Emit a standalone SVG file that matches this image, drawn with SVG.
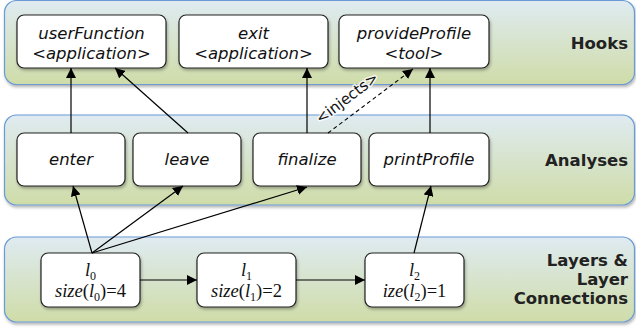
<svg xmlns="http://www.w3.org/2000/svg" width="636" height="329" viewBox="0 0 636 329">
<defs>
<linearGradient id="bandGrad" x1="0" y1="0" x2="0" y2="1">
<stop offset="0" stop-color="#dfebf1"/>
<stop offset="1" stop-color="#cfdca8"/>
</linearGradient>
<filter id="shadow" x="-5%" y="-5%" width="110%" height="120%">
<feDropShadow dx="1" dy="2" stdDeviation="1.5" flood-color="#000" flood-opacity="0.3"/>
</filter>
<marker id="arrow" viewBox="0 0 10 10" refX="10" refY="5" markerWidth="10" markerHeight="10" markerUnits="userSpaceOnUse" orient="auto">
<path d="M0,0 L10,5 L0,10 z" fill="#000"/>
</marker>
</defs>
<style>
.band{fill:url(#bandGrad);stroke:#6a9bd6;stroke-width:1.2;filter:url(#shadow)}
.node{fill:#fff;stroke:#222;stroke-width:1.2;filter:url(#shadow)}
.nt{font-family:"DejaVu Sans",Verdana,sans-serif;font-size:16.5px;font-style:italic;fill:#111;text-anchor:middle}
.lt{font-family:"Liberation Serif","Times New Roman",serif;font-size:18.5px;fill:#111;text-anchor:middle}
.bl{font-family:"DejaVu Sans",Verdana,sans-serif;font-size:16.5px;font-weight:bold;fill:#222;text-anchor:end}
.edge{stroke:#000;stroke-width:1.2;fill:none;marker-end:url(#arrow)}
.dash{stroke:#000;stroke-width:1.1;fill:none;stroke-dasharray:4 3;marker-end:url(#arrow)}
.inj{font-family:"DejaVu Sans",Verdana,sans-serif;font-size:15px;fill:#111;text-anchor:middle;stroke:#fff;stroke-width:3;stroke-opacity:0.8;paint-order:stroke;stroke-linejoin:round}
</style>

<g id="band-hooks">
<rect class="band" x="4.5" y="0.5" width="630" height="84" rx="12"/>
<text class="bl" x="628" y="49">Hooks</text>
</g>
<g id="band-analyses">
<rect class="band" x="4.5" y="115" width="630" height="90" rx="12"/>
<text class="bl" x="628" y="166">Analyses</text>
</g>
<g id="band-layers">
<rect class="band" x="4.5" y="237" width="630" height="85" rx="12"/>
<text class="bl" x="628" y="266">Layers &amp;</text>
<text class="bl" x="628" y="285">Layer</text>
<text class="bl" x="628" y="304">Connections</text>
</g>

<g id="userFunction">
<rect class="node" x="17" y="15" width="149" height="53" rx="7"/>
<text class="nt" x="91.5" y="39">userFunction</text>
<text class="nt" x="91.5" y="59">&lt;application&gt;</text>
</g>
<g id="exit">
<rect class="node" x="179" y="15" width="149" height="53" rx="7"/>
<text class="nt" x="253.5" y="39">exit</text>
<text class="nt" x="253.5" y="59">&lt;application&gt;</text>
</g>
<g id="provideProfile">
<rect class="node" x="339" y="15" width="150" height="53" rx="7"/>
<text class="nt" x="414" y="39">provideProfile</text>
<text class="nt" x="414" y="59">&lt;tool&gt;</text>
</g>

<g id="enter">
<rect class="node" x="17" y="133" width="108" height="53" rx="7"/>
<text class="nt" x="71" y="165">enter</text>
</g>
<g id="leave">
<rect class="node" x="133" y="133" width="108" height="53" rx="7"/>
<text class="nt" x="187" y="165">leave</text>
</g>
<g id="finalize">
<rect class="node" x="253" y="133" width="108" height="53" rx="7"/>
<text class="nt" x="307" y="165">finalize</text>
</g>
<g id="printProfile">
<rect class="node" x="369" y="133" width="120" height="53" rx="7"/>
<text class="nt" x="429" y="165">printProfile</text>
</g>

<g id="l0">
<rect class="node" x="41" y="253" width="99" height="54" rx="7"/>
<text class="lt" x="90.5" y="276"><tspan font-style="italic">l</tspan><tspan font-size="12" dy="4">0</tspan></text>
<text class="lt" x="90.5" y="297"><tspan font-style="italic">size</tspan>(<tspan font-style="italic">l</tspan><tspan font-size="12" dy="4">0</tspan><tspan dy="-4">)=4</tspan></text>
</g>
<g id="l1">
<rect class="node" x="197" y="253" width="99" height="54" rx="7"/>
<text class="lt" x="246.5" y="276"><tspan font-style="italic">l</tspan><tspan font-size="12" dy="4">1</tspan></text>
<text class="lt" x="246.5" y="297"><tspan font-style="italic">size</tspan>(<tspan font-style="italic">l</tspan><tspan font-size="12" dy="4">1</tspan><tspan dy="-4">)=2</tspan></text>
</g>
<g id="l2">
<rect class="node" x="365" y="253" width="99" height="54" rx="7"/>
<text class="lt" x="414.5" y="276"><tspan font-style="italic">l</tspan><tspan font-size="12" dy="4">2</tspan></text>
<text class="lt" x="414.5" y="297"><tspan font-style="italic">ize</tspan>(<tspan font-style="italic">l</tspan><tspan font-size="12" dy="4">2</tspan><tspan dy="-4">)=1</tspan></text>
</g>

<g id="connectors">
<line class="edge" x1="71" y1="133" x2="71" y2="68"/>
<line class="edge" x1="188" y1="133" x2="115" y2="68"/>
<line class="edge" x1="307" y1="133" x2="307" y2="68"/>
<line class="edge" x1="430" y1="133" x2="430" y2="68"/>
<line class="dash" x1="328" y1="133" x2="413" y2="69"/>
<text class="inj" transform="translate(350,102) rotate(-37)">&lt;injects&gt;</text>
<line class="edge" x1="92" y1="253" x2="73" y2="186"/>
<line class="edge" x1="92" y1="253" x2="183" y2="186"/>
<line class="edge" x1="92" y1="253" x2="307" y2="187"/>
<line class="edge" x1="414" y1="253" x2="431" y2="186"/>
<line class="edge" x1="140" y1="280" x2="197" y2="280"/>
<line class="edge" x1="296" y1="280" x2="365" y2="280"/>
</g>
</svg>
